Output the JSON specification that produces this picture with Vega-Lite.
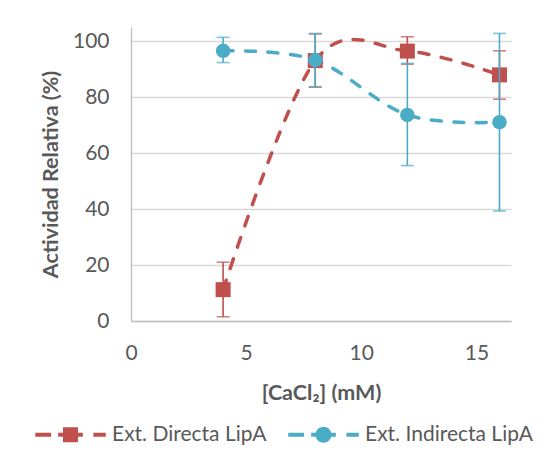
{
  "$schema": "https://vega.github.io/schema/vega-lite/v6.json",
  "autosize": "none",
  "width": 380,
  "height": 294,
  "padding": {"left": 131, "top": 27, "right": 42, "bottom": 136},
  "background": "white",
  "data": {
    "values": [
      {"serie": "Ext. Directa LipA", "x": 4, "y": 11.2, "lo": 1.5, "hi": 21.0},
      {"serie": "Ext. Directa LipA", "x": 8, "y": 93.0, "lo": 83.5, "hi": 102.5},
      {"serie": "Ext. Directa LipA", "x": 12, "y": 96.4, "lo": 91.7, "hi": 101.5},
      {"serie": "Ext. Directa LipA", "x": 16, "y": 87.9, "lo": 79.2, "hi": 96.5},
      {"serie": "Ext. Indirecta LipA", "x": 4, "y": 96.5, "lo": 92.3, "hi": 101.3},
      {"serie": "Ext. Indirecta LipA", "x": 8, "y": 93.2, "lo": 83.7, "hi": 102.7},
      {"serie": "Ext. Indirecta LipA", "x": 12, "y": 73.6, "lo": 55.5, "hi": 92.0},
      {"serie": "Ext. Indirecta LipA", "x": 16, "y": 71.0, "lo": 39.3, "hi": 102.7}
    ]
  },
  "layer": [
    {
      "mark": {"type": "line", "interpolate": "cardinal", "strokeWidth": 3.5, "strokeDash": [10, 12.5], "strokeCap": "round"},
      "encoding": {
        "x": {"field": "x", "type": "quantitative", "scale": {"domain": [0, 16.5], "nice": false},
          "axis": {"values": [0, 5, 10, 15], "grid": false, "title": "[CaCl₂] (mM)", "labelPadding": 21, "titlePadding": 19, "labelFlush": false}},
        "y": {"field": "y", "type": "quantitative", "scale": {"domain": [0, 105], "nice": false},
          "axis": {"values": [0, 20, 40, 60, 80, 100], "grid": true, "title": "Actividad Relativa (%)", "labelPadding": 22, "titlePadding": 10}},
        "color": {"field": "serie", "type": "nominal",
          "scale": {"domain": ["Ext. Directa LipA", "Ext. Indirecta LipA"], "range": ["#c0504d", "#4bacc6"]},
          "legend": {
            "title": null, "orient": "none", "legendX": -96, "legendY": 372, "direction": "horizontal",
            "symbolSize": 4970, "labelFontSize": 21, "labelColor": "#595959", "labelOffset": 6, "columnPadding": 21, "labelLimit": 400,
            "encoding": {
              "symbols": {
                "shape": {"value": {"expr": "datum.value === 'Ext. Directa LipA' ? 'M-1,-0.06H-0.55V0.06H-1Z M-0.35,-0.06H0.35V0.06H-0.35Z M-0.213,-0.213H0.213V0.213H-0.213Z M0.65,-0.06H1V0.06H0.65Z' : 'M-1,-0.06H-0.55V0.06H-1Z M-0.35,-0.06H0.35V0.06H-0.35Z M0.227,0A0.227,0.227 0 1,1 -0.227,0A0.227,0.227 0 1,1 0.227,0Z M0.65,-0.06H1V0.06H0.65Z'"}},
                "size": {"value": 4970},
                "fill": {"value": {"expr": "datum.value === 'Ext. Directa LipA' ? '#c0504d' : '#4bacc6'"}},
                "stroke": {"value": "transparent"},
                "strokeWidth": {"value": 0},
                "strokeDash": {"value": [1, 0]},
                "opacity": {"value": 1}
              }
            }
          }
        }
      }
    },
    {
      "transform": [{"filter": "datum.serie === 'Ext. Directa LipA'"}],
      "mark": {"type": "errorbar", "ticks": {"size": 13, "thickness": 1.6}, "rule": {"strokeWidth": 1.6}},
      "encoding": {
        "x": {"field": "x", "type": "quantitative", "title": "[CaCl₂] (mM)"},
        "y": {"field": "lo", "type": "quantitative", "title": "Actividad Relativa (%)"},
        "y2": {"field": "hi"},
        "color": {"field": "serie", "type": "nominal", "legend": null}
      }
    },
    {
      "transform": [{"filter": "datum.serie === 'Ext. Directa LipA'"}],
      "mark": {"type": "point", "filled": true, "opacity": 1, "shape": "square", "size": 225},
      "encoding": {
        "x": {"field": "x", "type": "quantitative", "title": "[CaCl₂] (mM)"},
        "y": {"field": "y", "type": "quantitative", "title": "Actividad Relativa (%)"},
        "color": {"field": "serie", "type": "nominal", "legend": null}
      }
    },
    {
      "transform": [{"filter": "datum.serie === 'Ext. Indirecta LipA'"}],
      "mark": {"type": "errorbar", "ticks": {"size": 13, "thickness": 1.6}, "rule": {"strokeWidth": 1.6}},
      "encoding": {
        "x": {"field": "x", "type": "quantitative", "title": "[CaCl₂] (mM)"},
        "y": {"field": "lo", "type": "quantitative", "title": "Actividad Relativa (%)"},
        "y2": {"field": "hi"},
        "color": {"field": "serie", "type": "nominal", "legend": null}
      }
    },
    {
      "transform": [{"filter": "datum.serie === 'Ext. Indirecta LipA'"}],
      "mark": {"type": "point", "filled": true, "opacity": 1, "shape": "circle", "size": 210},
      "encoding": {
        "x": {"field": "x", "type": "quantitative", "title": "[CaCl₂] (mM)"},
        "y": {"field": "y", "type": "quantitative", "title": "Actividad Relativa (%)"},
        "color": {"field": "serie", "type": "nominal", "legend": null}
      }
    }
  ],
  "config": {
    "font": "Lato",
    "view": {"stroke": null},
    "axis": {
      "labelColor": "#595959", "titleColor": "#595959", "labelFontSize": 21, "titleFontSize": 21.5,
      "titleFontWeight": "bold", "gridColor": "#d9d9d9", "gridWidth": 1.3, "domainColor": "#bfbfbf",
      "domainWidth": 1.3, "ticks": false, "labelFont": "Lato", "titleFont": "Lato"
    },
    "legend": {"labelFont": "Lato"}
  }
}
